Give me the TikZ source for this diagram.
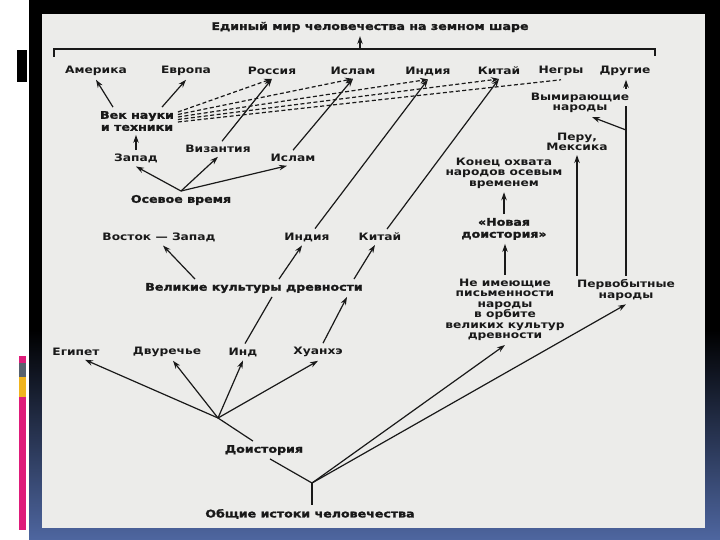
\documentclass[tikz,border=0pt]{standalone}
\usepackage{fontspec}
\usetikzlibrary{arrows.meta}
\newfontfamily\schemefont[FakeStretch=1.2]{DejaVu Sans Bold}
\newfontfamily\heavyfont[FakeStretch=1.2, UprightFeatures={FakeBold=1.6}]{DejaVu Sans Bold}
\newcommand{\lab}{\schemefont\fontsize{10.2bp}{10.5bp}\selectfont}
\newcommand{\head}{\heavyfont\fontsize{10.5bp}{12bp}\selectfont}
\definecolor{slideblue}{RGB}{78,102,160}
\definecolor{pagegray}{RGB}{236,236,234}
\definecolor{barpink}{RGB}{222,28,122}
\definecolor{bargray}{RGB}{88,98,110}
\definecolor{baryellow}{RGB}{240,180,30}
\tikzset{
  lbl/.style={font=\lab, inner sep=1bp, outer sep=3bp, align=center, text=black!90},
  hd/.style={lbl, font=\head},
  ln/.style={line width=1.2bp, black!90},
  arr/.style={ln, -{Stealth[length=8bp,width=5.5bp]}},
  dsh/.style={dash pattern=on 4bp off 2.5bp},
}
\begin{document}
\begin{tikzpicture}[x=1bp, y=-1bp]
  \useasboundingbox (0,0) rectangle (720,540);
  % slide
  \fill[white] (0,0) rectangle (720,540);
  \fill[black] (29,0) rectangle (720,330);
  \shade[top color=black, bottom color=slideblue] (29,330) rectangle (720,540);
  \fill[black] (17,50) rectangle (27,82);
  \fill[barpink] (19,356) rectangle (26,363);
  \fill[bargray] (19,363) rectangle (26,377);
  \fill[baryellow] (19,377) rectangle (26,397);
  \fill[barpink] (19,397) rectangle (26,530);
  \fill[pagegray] (42,14) rectangle (705,528);

  % top
  \node[hd] (title) at (370,27) {Единый мир человечества на земном шаре};
  \draw[ln] (54,57) -- (54,49) -- (655,49) -- (655,56);
  \coordinate (join) at (360,49);
  \draw[arr] (join) -- (join |- title.south);

  \node[lbl] (amer) at (96,71) {Америка};
  \node[lbl] (evr) at (186,71) {Европа};
  \node[lbl] (ross) at (272,71) {Россия};
  \node[lbl] (islam) at (353,71) {Ислам};
  \node[lbl] (ind) at (428,71) {Индия};
  \node[lbl] (kit) at (499,71) {Китай};
  \node[lbl] (negr) at (561,71) {Негры};
  \node[lbl] (drug) at (625,71) {Другие};

  % left branch
  \node[hd] (vek) at (137,121) {Век науки\\и техники};
  \node[lbl] (zapad) at (136,158) {Запад};
  \node[lbl] (viz) at (218,149) {Византия};
  \node[lbl] (islam2) at (293,158) {Ислам};
  \node[hd] (osev) at (181,200) {Осевое время};
  \node[lbl] (vz) at (159,237) {Восток — Запад};
  \node[lbl] (ind2) at (307,237) {Индия};
  \node[lbl] (kit2) at (380,237) {Китай};
  \node[hd] (velik) at (254,288) {Великие культуры древности};
  \node[lbl] (egip) at (76,352) {Египет};
  \node[lbl] (dvur) at (167,352) {Двуречье};
  \node[lbl] (indus) at (243,352) {Инд};
  \node[lbl] (huan) at (318,352) {Хуанхэ};
  \node[hd] (doist) at (264,450) {Доистория};
  \node[hd] (obsh) at (310,514) {Общие истоки человечества};

  % right branch
  \node[lbl] (vym) at (580,103) {Вымирающие\\народы};
  \node[lbl] (peru) at (577,142) {Перу,\\Мексика};
  \node[lbl] (konec) at (504,173) {Конец охвата\\народов осевым\\временем};
  \node[hd] (novaya) at (504,229) {«Новая\\доистория»};
  \node[lbl] (neim) at (505,310) {Не имеющие\\письменности\\народы\\в орбите\\великих культур\\древности};
  \node[lbl] (perv) at (626,290) {Первобытные\\народы};

  % connectors
  \draw[arr] ([xshift=-24bp]vek.north) -- (amer.south);
  \draw[arr] ([xshift=25bp]vek.north) -- (evr.south);
  \draw[arr, dsh] ([yshift=9bp]vek.east) -- (ross.south);
  \draw[arr, dsh] ([yshift=6.5bp]vek.east) -- (islam.south);
  \draw[arr, dsh] ([yshift=4bp]vek.east) -- (ind.south);
  \draw[arr, dsh] ([yshift=1.5bp]vek.east) -- (kit.south);
  \draw[ln, dsh] ([yshift=-1bp]vek.east) -- (negr.south);
  \draw[arr] ([xshift=4bp]viz.north) -- (ross.south);
  \draw[arr] (islam2.north) -- (islam.south);
  \draw[arr] ([xshift=8bp]ind2.north) -- (ind.south);
  \draw[arr] ([xshift=7bp]kit2.north) -- (kit.south);
  \draw[arr] (zapad.north) -- (zapad.north |- vek.south);
  \draw[arr] (osev.north) -- (zapad.south);
  \draw[arr] (osev.north) -- (viz.south);
  \draw[arr] (osev.north) -- ([xshift=-6bp]islam2.south);
  \draw[arr] ([xshift=-59bp]velik.north) -- ([xshift=4bp]vz.south);
  \draw[arr] ([xshift=25bp]velik.north) -- ([xshift=-5bp]ind2.south);
  \draw[arr] ([xshift=100bp]velik.north) -- ([xshift=-5bp]kit2.south);
  \draw[ln] ([xshift=2bp]indus.north) -- ([xshift=18bp]velik.south);
  \draw[arr] ([xshift=5bp]huan.north) -- ([xshift=93bp]velik.south);

  \coordinate (fan) at (218,418);
  \draw[arr] (fan) -- ([xshift=9bp]egip.south);
  \draw[arr] (fan) -- ([xshift=6bp]dvur.south);
  \draw[arr] (fan) -- (indus.south);
  \draw[arr] (fan) -- (huan.south);
  \draw[ln] (fan) -- ([xshift=-11bp]doist.north);
  \coordinate (root) at (312,483);
  \draw[ln] ([xshift=6bp]doist.south) -- (root);
  \draw[ln] (root) -- (root |- obsh.north);
  \draw[arr] (root) -- (neim.south);
  \draw[arr] (root) -- (perv.south);

  \draw[arr] (neim.north) -- (neim.north |- novaya.south);
  \draw[arr] (novaya.north) -- (novaya.north |- konec.south);
  \draw[arr] (perv.north -| peru) -- (peru.south);
  \coordinate (fork) at (626,130);
  \coordinate (gap) at (626,106);
  \draw[ln] (perv.north) -- (gap);
  \draw[arr] (fork) -- ([xshift=12bp]vym.south);
  \draw[arr] (perv.north |- vym.north) -- (perv.north |- drug.south);
\end{tikzpicture}
\end{document}
